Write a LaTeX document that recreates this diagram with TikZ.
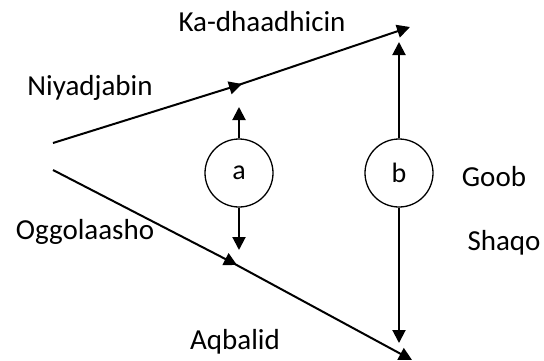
\documentclass[tikz,border=0pt]{standalone}
\usepackage{fontspec}
\setmainfont{Carlito}
\usetikzlibrary{arrows.meta,calc}
\begin{document}
\begin{tikzpicture}[x=1pt,y=-1pt,
  conn/.style={line width=2pt,-{Triangle[length=13pt,width=13pt]}},
  circ/.style={circle,draw,line width=1.3pt,minimum size=68pt,inner sep=0pt,font=\fontsize{28}{32}\selectfont},
  lbl/.style={font=\fontsize{29}{33}\selectfont,inner sep=0pt}]
\useasboundingbox (0,0) rectangle (544,360);
\coordinate (s1) at (53,143);
\coordinate (m1) at (242,84);
\coordinate (e1) at (410,27);
\coordinate (s2) at (53,170);
\coordinate (m2) at (237,265);
\coordinate (e2) at (412,360);
\node[circ] (a) at (239,173) {a};
\node[circ] (b) at (399,173) {b};
\coordinate (at) at (239,107);
\coordinate (ab) at (239,250);
\coordinate (bt) at (399,42);
\coordinate (bb) at (399,343);
\draw[conn] (s1) -- (m1);
\draw[conn] ($(m1)!9pt!(s1)$) -- (e1);
\draw[conn] (s2) -- (m2);
\draw[conn] ($(m2)!9pt!(s2)$) -- (e2);
\draw[conn] (a.north) -- (at);
\draw[conn] (a.south) -- (ab);
\draw[conn] (b.north) -- (bt);
\draw[conn] (b.south) -- (bb);
\node[lbl] (kd) at (262,22) {Ka-dhaadhicin};
\node[lbl] (ny) at (90,88) {Niyadjabin};
\node[lbl] (og) at (85,232) {Oggolaasho};
\node[lbl] (aq) at (235,342) {Aqbalid};
\node[lbl] (gb) at (494,177) {Goob};
\node[lbl] (sh) at (504,243) {Shaqo};
\end{tikzpicture}
\end{document}
